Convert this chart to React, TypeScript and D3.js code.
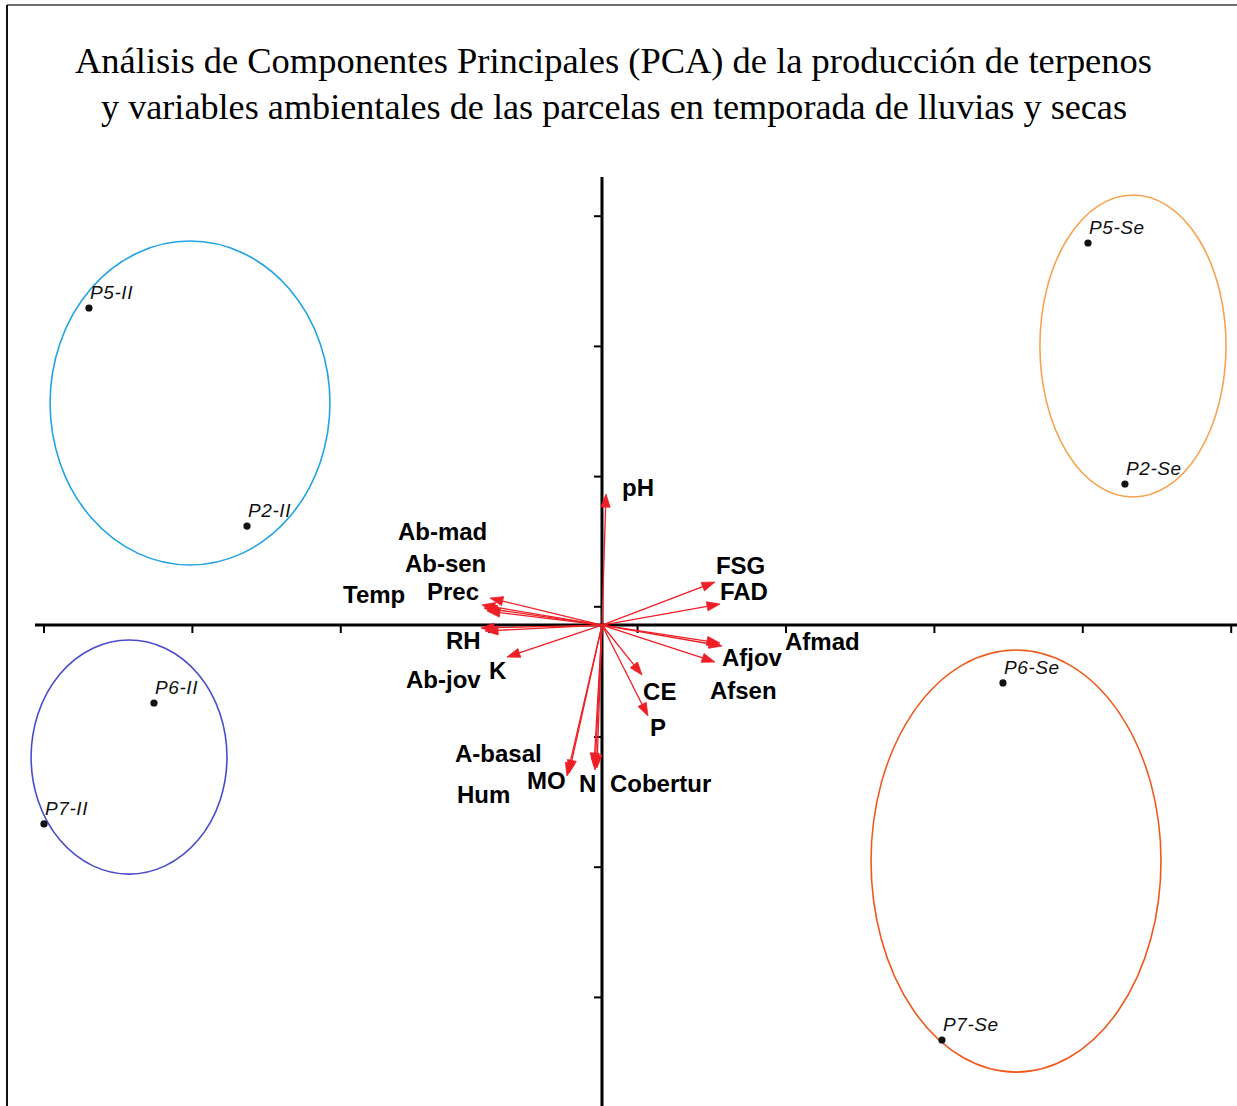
import React from "react";
import * as d3 from "d3";

const W = 1237;
const H = 1106;

// Title lines
const titleLines = [
  "Análisis de Componentes Principales (PCA) de la producción de terpenos",
  "y variables ambientales de las parcelas en temporada de lluvias y secas",
];

// Variable loadings (PC1, PC2)
const varNames = [
  "pH", "Ab-mad", "Ab-sen", "Temp", "Prec", "RH", "Ab-jov", "K",
  "FSG", "FAD", "Afmad", "Afjov", "Afsen", "CE", "P",
  "A-basal", "MO", "N", "Cobertur", "Hum",
];
const varPC1 = [
  0.027, -0.755, -0.809, -0.795, -0.775, -0.815, -0.788, -0.64,
  0.761, 0.795, 0.809, 0.795, 0.761, 0.27, 0.31,
  -0.222, -0.236, -0.047, -0.034, -0.054,
];
const varPC2 = [
  1.006, 0.207, 0.154, 0.131, 0.108, -0.023, -0.046, -0.246,
  0.33, 0.161, -0.161, -0.138, -0.284, -0.384, -0.699,
  -1.137, -1.16, -1.114, -1.098, -1.083,
];
// Label placement relative to arrow tips (px): left edge, baseline
const varLabelDx = [
  16, -92, -77, -141, -60, -35, -79, -18,
  1, 0, 63, 2, -5, 1, 2,
  -114, -40, -16, 13, -137,
];
const varLabelDy = [
  2, -58, -33, -5, -11, 21, 57, 22,
  -8, -4, 4, 23, 37, 25, 20,
  -11, 13, 22, 24, 37,
];

// Site scores (PC1, PC2)
const siteNames = ["P5-II", "P2-II", "P6-II", "P7-II", "P5-Se", "P2-Se", "P6-Se", "P7-Se"];
const siteX = [-3.457, -2.392, -3.019, -3.76, 3.275, 3.524, 2.702, 2.291];
const siteY = [2.435, 0.76, -0.599, -1.528, 2.934, 1.083, -0.445, -3.187];

// Group ellipses (centre and semi-axes in PC units)
const groupCx = [-2.776, -3.187, 3.578, 2.79];
const groupCy = [1.705, -1.014, 2.143, -1.813];
const groupRx = [0.943, 0.66, 0.627, 0.977];
const groupRy = [1.244, 0.899, 1.16, 1.621];
const groupColors = ["#22a3e3", "#4a4ccc", "#f8a24e", "#ee5a1e"];

// Axis ticks
const xTicks = [-3.76, -2.76, -1.76, -0.76, 0.24, 1.24, 2.24, 3.24, 4.24];
const yTicks = [3.14, 2.14, 1.14, 0.14, -0.86, -1.86, -2.86];

const ARROW_RED = "#ee1f26";

export default function App() {
  const x = d3.scaleLinear().domain([-3.76, 4.24]).range([44, 1231.2]);
  const y = d3.scaleLinear().domain([-2.86, 3.14]).range([997.4, 216.2]);
  const ox = x(0);
  const oy = y(0);

  const arrows = varNames.map((name, i) => {
    const tx = x(varPC1[i]);
    const ty = y(varPC2[i]);
    const dx = tx - ox;
    const dy = ty - oy;
    const len = Math.hypot(dx, dy);
    const ux = dx / len;
    const uy = dy / len;
    const headL = 13;
    const headW = 4.6;
    const bx = tx - ux * headL;
    const by = ty - uy * headL;
    const head = [
      [tx, ty],
      [bx - uy * headW, by + ux * headW],
      [bx + uy * headW, by - ux * headW],
    ];
    return { name, tx, ty, bx, by, head, i };
  });

  const line = d3.line();

  return (
    <svg
      width={W}
      height={H}
      style={{ position: "absolute", left: 0, top: 0, background: "#fff" }}
    >
      <rect x={0} y={0} width={W} height={H} fill="#fff" />
      {/* frame */}
      <line x1={7} y1={5} x2={W} y2={5} stroke="#6e6e6e" strokeWidth={2} />
      <line x1={7} y1={5} x2={7} y2={H} stroke="#111" strokeWidth={2} />

      {/* title */}
      {titleLines.map((t, i) => (
        <text
          key={i}
          x={i === 0 ? 75 : 101}
          y={i === 0 ? 73 : 119}
          textLength={i === 0 ? 1077 : 1026}
          lengthAdjust="spacingAndGlyphs"
          fontFamily="'Liberation Serif', 'DejaVu Serif', serif"
          fontSize={36}
          fill="#000"
        >
          {t}
        </text>
      ))}

      {/* group ellipses */}
      {groupCx.map((c, i) => (
        <ellipse
          key={i}
          cx={x(c)}
          cy={y(groupCy[i])}
          rx={x(groupRx[i]) - x(0)}
          ry={y(0) - y(groupRy[i])}
          fill="none"
          stroke={groupColors[i]}
          strokeWidth={1.6}
        />
      ))}

      {/* axes */}
      <line x1={35} y1={oy} x2={W} y2={oy} stroke="#000" strokeWidth={3} />
      <line x1={ox} y1={177} x2={ox} y2={H} stroke="#000" strokeWidth={3} />
      {xTicks.map((t) => (
        <line key={t} x1={x(t)} y1={oy} x2={x(t)} y2={oy + 8} stroke="#000" strokeWidth={2} />
      ))}
      {yTicks.map((t) => (
        <line key={t} x1={ox - 8} y1={y(t)} x2={ox} y2={y(t)} stroke="#000" strokeWidth={2} />
      ))}

      {/* loading arrows */}
      {arrows.map((a) => (
        <g key={a.name}>
          <line x1={ox} y1={oy} x2={a.bx} y2={a.by} stroke={ARROW_RED} strokeWidth={1.3} />
          <path d={line(a.head as [number, number][]) + "Z"} fill={ARROW_RED} stroke={ARROW_RED} strokeWidth={0.8} />
        </g>
      ))}
      {arrows.map((a) => (
        <text
          key={a.name + "-lab"}
          x={a.tx + varLabelDx[a.i]}
          y={a.ty + varLabelDy[a.i]}
          fontFamily="'Liberation Sans', Arial, sans-serif"
          fontWeight="bold"
          fontSize={24}
          fill="#000"
        >
          {a.name}
        </text>
      ))}

      {/* site scores */}
      {siteNames.map((s, i) => (
        <g key={s}>
          <circle cx={x(siteX[i])} cy={y(siteY[i])} r={3.6} fill="#111" />
          <text
            x={x(siteX[i]) + 1}
            y={y(siteY[i]) - 9}
            fontFamily="'Liberation Sans', Arial, sans-serif"
            fontStyle="italic"
            fontSize={19}
            letterSpacing={0.6}
            fill="#111"
          >
            {s}
          </text>
        </g>
      ))}
    </svg>
  );
}
